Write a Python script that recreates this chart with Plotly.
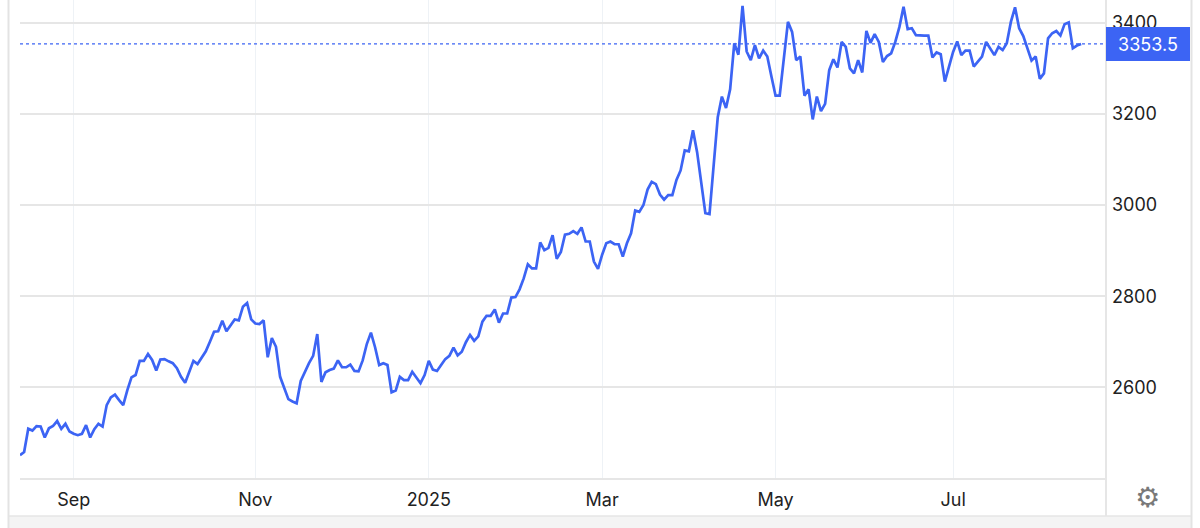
import pandas as pd
import plotly.graph_objects as go

# ---- data ----
start_date = "2024-08-14"
end_date = "2025-08-13"
holidays = ["2024-12-25", "2025-01-01", "2025-04-18"]

prices = [
    2451, 2458, 2509, 2505, 2515, 2514, 2490, 2510, 2515, 2526,
    2509, 2520, 2503, 2498, 2495, 2498, 2517, 2490, 2508, 2520,
    2514, 2561, 2578, 2584, 2572, 2561, 2594, 2622, 2627, 2658,
    2658, 2673, 2660, 2637, 2661, 2662, 2657, 2653, 2642, 2623,
    2610, 2634, 2658, 2651, 2666, 2679, 2700, 2722, 2723, 2746,
    2723, 2736, 2749, 2747, 2777, 2785, 2749, 2740, 2739, 2747,
    2666, 2708, 2689, 2623, 2599, 2574, 2569, 2565, 2614, 2634,
    2653, 2669, 2717, 2612, 2633, 2638, 2641, 2659, 2644, 2644,
    2650, 2636, 2635, 2659, 2695, 2720, 2688, 2649, 2653, 2649,
    2589, 2593, 2623, 2616, 2616, 2634, 2621, 2609, 2627, 2658,
    2639, 2636, 2649, 2662, 2669, 2687, 2670, 2678, 2699, 2715,
    2702, 2712, 2744, 2757, 2757, 2771, 2742, 2762, 2762, 2797,
    2798, 2815, 2839, 2870, 2861, 2861, 2918, 2901, 2906, 2934,
    2882, 2897, 2935, 2937, 2943, 2937, 2951, 2920, 2920, 2876,
    2860, 2891, 2916, 2920, 2914, 2914, 2887, 2916, 2938, 2988,
    2985, 3000, 3034, 3051, 3046, 3023, 3012, 3022, 3022, 3055,
    3076, 3120, 3118, 3164, 3116, 3047, 2982, 2980, 3091, 3193,
    3238, 3213, 3254, 3355, 3330, 3437, 3337, 3318, 3351, 3322,
    3339, 3326, 3282, 3240, 3240, 3326, 3402, 3380, 3318, 3326,
    3240, 3254, 3188, 3238, 3206, 3222, 3296, 3320, 3302, 3358,
    3347, 3300, 3289, 3318, 3291, 3382, 3356, 3375, 3358, 3314,
    3327, 3333, 3358, 3391, 3435, 3386, 3388, 3373, 3372, 3372,
    3372, 3324, 3335, 3331, 3271, 3305, 3336, 3359, 3329, 3339,
    3339, 3304, 3315, 3326, 3358, 3344, 3329, 3347, 3340, 3355,
    3402, 3434, 3388, 3371, 3342, 3317, 3326, 3277, 3289, 3366,
    3377, 3382, 3372, 3397, 3401, 3344, 3350, 3353.5,
]

x_tick_dates = ["2024-09-02", "2024-11-01", "2025-01-02", "2025-03-03", "2025-05-01", "2025-07-01"]
x_tick_labels = ["Sep", "Nov", "2025", "Mar", "May", "Jul"]
y_ticks = [2600, 2800, 3000, 3200, 3400]
last_value = prices[-1]
last_label = "3353.5"

hol = set(pd.to_datetime(holidays))
dates = [d for d in pd.bdate_range(start_date, end_date) if d not in hol]
assert len(dates) == len(prices), (len(dates), len(prices))

BLUE = "#3c64f4"
FONT = "Inter"
TXT = "#222222"

fig = go.Figure()
fig.add_trace(go.Scatter(
    x=dates, y=prices, mode="lines",
    line=dict(color=BLUE, width=2.7),
    hoverinfo="x+y",
))

fig.update_layout(
    width=1200, height=528,
    margin=dict(l=20, r=95, t=0, b=50),
    paper_bgcolor="white", plot_bgcolor="white",
    showlegend=False,
    font=dict(family=FONT, size=18, color=TXT),
    xaxis=dict(
        type="date",
        rangebreaks=[dict(bounds=["sat", "mon"]), dict(values=holidays)],
        range=[dates[0], "2025-08-20 19:00"],
        tickvals=x_tick_dates, ticktext=x_tick_labels,
        ticks="", showline=True, linecolor="#e6e6e6", linewidth=2,
        showgrid=True, gridcolor="#eef2f6", gridwidth=1,
        zeroline=False, fixedrange=True,
        tickfont=dict(family=FONT, size=18, color=TXT),
        ticklabelstandoff=4,
    ),
    yaxis=dict(
        side="right", range=[2401, 3450],
        tickvals=y_ticks, ticktext=[str(v) for v in y_ticks],
        ticks="", showline=False, zeroline=False,
        showgrid=True, gridcolor="#e6e6e6", gridwidth=1.5,
        fixedrange=True,
        tickfont=dict(family=FONT, size=18, color=TXT),
        ticklabelstandoff=6,
    ),
)

def px_x(p):
    return (p - 20) / 1085.0

def px_y(p):
    return (478 - p) / 478.0

shapes = [
    dict(type="rect", xref="paper", yref="paper", x0=px_x(8.5), x1=px_x(1191.5),
         y0=px_y(528), y1=px_y(516), fillcolor="#f4f4f4", line=dict(width=0), layer="below"),
    dict(type="line", xref="paper", yref="paper", x0=px_x(8.5), x1=px_x(1191.5),
         y0=px_y(516), y1=px_y(516), line=dict(color="#e6e6e6", width=1.5)),
    dict(type="line", xref="paper", yref="paper", x0=px_x(8.5), x1=px_x(8.5),
         y0=px_y(528), y1=1, line=dict(color="#e3e3e3", width=2)),
    dict(type="line", xref="paper", yref="paper", x0=px_x(1191.5), x1=px_x(1191.5),
         y0=px_y(528), y1=1, line=dict(color="#e3e3e3", width=2)),
    dict(type="line", xref="paper", yref="paper", x0=px_x(1106), x1=px_x(1106),
         y0=px_y(516), y1=1, line=dict(color="#e6e6e6", width=2)),
    dict(type="line", xref="paper", yref="y", x0=0, x1=1, y0=last_value, y1=last_value,
         line=dict(color=BLUE, width=1.2, dash="dot")),
]
fig.update_layout(shapes=shapes)

fig.add_annotation(
    xref="paper", yref="y", x=px_x(1106), y=last_value,
    xanchor="left", yanchor="middle", showarrow=False,
    text=last_label, font=dict(family=FONT, size=18, color="white"),
    bgcolor=BLUE, borderwidth=0, borderpad=2, width=80, height=30, align="center",
)
fig.add_annotation(
    xref="paper", yref="paper", x=px_x(1147), y=px_y(497),
    xanchor="center", yanchor="middle", showarrow=False,
    text="⚙", font=dict(family="DejaVu Sans", size=28, color="#7a7a7a"),
)

fig.write_html("out.html", config={"displayModeBar": False},
               post_script="document.body.style.margin='0';document.body.style.overflow='hidden';")
